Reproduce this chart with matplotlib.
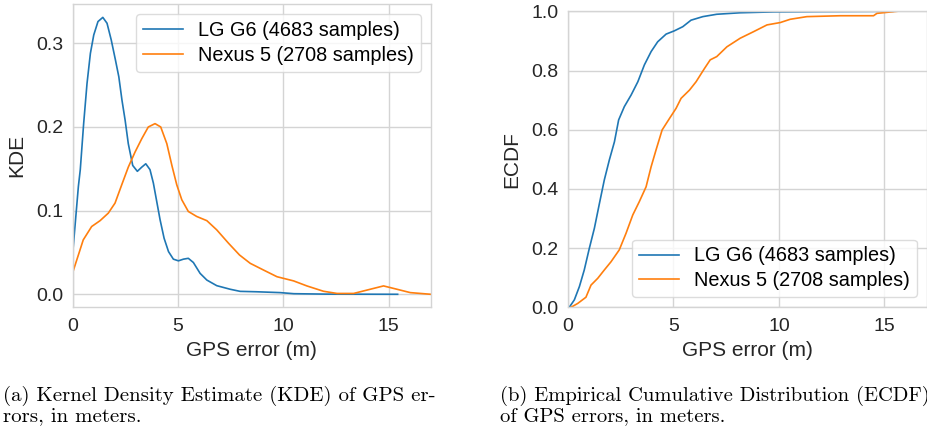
import matplotlib
matplotlib.use("Agg")
import matplotlib.pyplot as plt

# ---------------- data ----------------
labels = ["LG G6 (4683 samples)", "Nexus 5 (2708 samples)"]
colors = ["#1f77b4", "#ff7f0e"]

kde_lg_x = [0.0, 0.27, 0.36, 0.52, 0.68, 0.84, 1.0, 1.20, 1.43, 1.63, 1.83, 2.03, 2.19,
            2.34, 2.49, 2.64, 2.85, 3.07, 3.28, 3.47, 3.67, 3.83, 3.99, 4.15, 4.34, 4.55,
            4.78, 5.02, 5.26, 5.49, 5.73, 6.05, 6.37, 6.84, 7.48, 7.95, 8.74, 9.85, 10.5,
            12.0, 13.5, 15.43]
kde_lg_y = [0.049, 0.129, 0.149, 0.204, 0.252, 0.288, 0.310, 0.326, 0.331, 0.324, 0.304,
            0.280, 0.260, 0.232, 0.208, 0.180, 0.154, 0.147, 0.152, 0.156, 0.149, 0.133,
            0.111, 0.089, 0.067, 0.051, 0.042, 0.040, 0.042, 0.043, 0.038, 0.025, 0.017,
            0.0103, 0.006, 0.0035, 0.003, 0.002, 0.0007, 0.0002, 0.0001, 0.0]

kde_n5_x = [0.0, 0.27, 0.5, 0.90, 1.30, 1.69, 2.01, 2.33, 2.64, 2.96, 3.28, 3.59, 3.91,
            4.18, 4.47, 4.71, 4.94, 5.18, 5.49, 5.89, 6.37, 6.84, 7.40, 7.92, 8.43, 9.06,
            9.70, 10.49, 11.12, 11.91, 12.55, 13.34, 13.97, 14.76, 15.40, 16.03, 17.0]
kde_n5_y = [0.026, 0.047, 0.065, 0.081, 0.088, 0.097, 0.109, 0.131, 0.152, 0.170, 0.186,
            0.200, 0.204, 0.200, 0.180, 0.154, 0.131, 0.113, 0.099, 0.093, 0.088, 0.077,
            0.061, 0.047, 0.037, 0.029, 0.021, 0.016, 0.010, 0.0036, 0.001, 0.001, 0.005,
            0.010, 0.006, 0.002, 0.0]

ecdf_lg_x = [0.06, 0.30, 0.54, 0.77, 1.01, 1.25, 1.49, 1.72, 1.96, 2.20, 2.40, 2.67, 2.99,
             3.31, 3.62, 3.94, 4.25, 4.65, 5.04, 5.44, 5.83, 6.39, 7.05, 8.16, 9.74, 12.0,
             15.4]
ecdf_lg_y = [0.0, 0.025, 0.070, 0.126, 0.199, 0.267, 0.351, 0.430, 0.498, 0.559, 0.633,
             0.678, 0.717, 0.762, 0.819, 0.864, 0.897, 0.923, 0.934, 0.948, 0.970, 0.982,
             0.990, 0.995, 0.998, 0.999, 1.0]

ecdf_n5_x = [0.14, 0.46, 0.85, 1.09, 1.41, 1.72, 2.04, 2.43, 2.75, 3.07, 3.38, 3.70, 3.94,
             4.17, 4.46, 4.81, 5.12, 5.36, 5.76, 6.07, 6.47, 6.74, 7.05, 7.53, 8.16, 8.79,
             9.43, 10.06, 10.53, 11.32, 12.90, 14.48, 14.64, 15.59]
ecdf_n5_y = [0.0, 0.013, 0.034, 0.075, 0.098, 0.126, 0.154, 0.194, 0.250, 0.312, 0.357,
             0.407, 0.475, 0.531, 0.599, 0.638, 0.672, 0.706, 0.734, 0.762, 0.807, 0.836,
             0.847, 0.880, 0.909, 0.931, 0.954, 0.962, 0.973, 0.982, 0.985, 0.985, 0.993,
             1.0]

kde_yticks = [0.0, 0.1, 0.2, 0.3]
ecdf_yticks = [0.0, 0.2, 0.4, 0.6, 0.8, 1.0]
xticks = [0, 5, 10, 15]

captions = ["(a) Kernel Density Estimate (KDE) of GPS er-\nrors, in meters.",
            "(b) Empirical Cumulative Distribution (ECDF)\nof GPS errors, in meters."]

# ---------------- style ----------------
plt.rcParams["font.family"] = ["Liberation Sans", "DejaVu Sans"]
W, H = 928, 428
fig = plt.figure(figsize=(W / 100, H / 100), dpi=100)

grid_c = "#d4d4d4"
txt_c = "#262626"


def style(ax):
    ax.set_facecolor("white")
    for s in ax.spines.values():
        s.set_color(grid_c)
        s.set_linewidth(1.0)
    ax.grid(True, color=grid_c, linewidth=1.0)
    ax.set_axisbelow(True)
    ax.tick_params(axis="both", length=0, labelsize=14, colors=txt_c)
    ax.tick_params(axis="y", pad=7)
    ax.tick_params(axis="x", pad=8)


def px_rect(x0, y0, x1, y1):
    return [x0 / W, (H - y1) / H, (x1 - x0) / W, (y1 - y0) / H]


ax1 = fig.add_axes(px_rect(72.7, 4, 430.7, 307))
ax2 = fig.add_axes(px_rect(568, 11.3, 926.7, 307.3))

for ax in (ax1, ax2):
    style(ax)

leg_kw = dict(fontsize=14.3, frameon=True, fancybox=True, borderaxespad=0.5,
              handletextpad=0.75, borderpad=0.35, labelspacing=0.3)

ax1.plot(kde_lg_x, kde_lg_y, color=colors[0], lw=1.2, label=labels[0])
ax1.plot(kde_n5_x, kde_n5_y, color=colors[1], lw=1.2, label=labels[1])
ax1.set_xlim(0, 17)
ax1.set_ylim(-0.0152, 0.347)
ax1.set_yticks(kde_yticks)
ax1.set_yticklabels([f"{v:.1f}" for v in kde_yticks])
ax1.set_xticks(xticks)
ax1.set_xlabel("GPS error (m)", fontsize=15, labelpad=4, color=txt_c)
ax1.set_ylabel("KDE", fontsize=15, labelpad=7, color=txt_c)
leg1 = ax1.legend(loc="upper right", **leg_kw)
leg1.get_frame().set_edgecolor(grid_c)

ax2.plot(ecdf_lg_x, ecdf_lg_y, color=colors[0], lw=1.2, label=labels[0])
ax2.plot(ecdf_n5_x, ecdf_n5_y, color=colors[1], lw=1.2, label=labels[1])
ax2.set_xlim(0, 17)
ax2.set_ylim(0, 1.0)
ax2.set_yticks(ecdf_yticks)
ax2.set_yticklabels([f"{v:.1f}" for v in ecdf_yticks])
ax2.set_xticks(xticks)
ax2.set_xlabel("GPS error (m)", fontsize=15, labelpad=4, color=txt_c)
ax2.set_ylabel("ECDF", fontsize=15, labelpad=7, color=txt_c)
leg2 = ax2.legend(loc="lower right", **leg_kw)
leg2.get_frame().set_edgecolor(grid_c)

fig.text(3 / W, 1 - 386 / H, captions[0], family=["cmr10", "DejaVu Serif"],
         fontsize=15, va="top", ha="left", linespacing=1.1)
fig.text(500 / W, 1 - 386 / H, captions[1], family=["cmr10", "DejaVu Serif"],
         fontsize=14.8, va="top", ha="left", linespacing=1.1)

fig.savefig("out.png", dpi=100)
